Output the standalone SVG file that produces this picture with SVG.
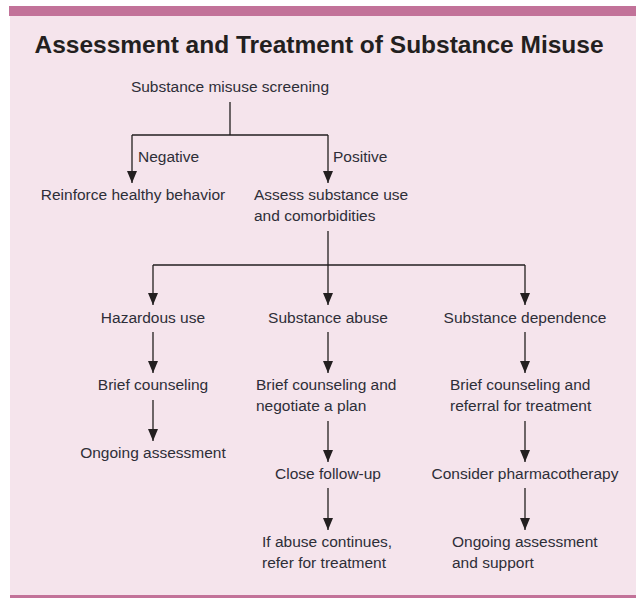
<svg xmlns="http://www.w3.org/2000/svg" width="636" height="598" viewBox="0 0 636 598">
<defs>
<marker id="ah" viewBox="0 0 12 10" refX="12" refY="5" markerWidth="12" markerHeight="10" markerUnits="userSpaceOnUse" orient="auto">
<path d="M0,0 L12,5 L0,10 Z" fill="#231f20"/>
</marker>
<style>
.t{font-family:"Liberation Sans",Arial,sans-serif;font-size:15.5px;fill:#2e2e38}
.m{text-anchor:middle}
.ln{fill:none;stroke:#231f20;stroke-width:1.3}
.ar{fill:none;stroke:#231f20;stroke-width:1.3}
</style>
</defs>
<rect x="0" y="0" width="636" height="598" fill="#ffffff"/>
<rect x="10" y="16" width="626" height="579" fill="#f5e4ec"/>
<rect x="9" y="6" width="627" height="10" fill="#c27299"/>
<rect x="10" y="595" width="626" height="3" fill="#c27299"/>
<text x="319" y="53" text-anchor="middle" style="font-family:'Liberation Sans',Arial,sans-serif;font-size:24.5px;font-weight:bold;fill:#231f20">Assessment and Treatment of Substance Misuse</text>
<g id="connectors">
<path class="ln" d="M230,102 V135 M132,135 H328"/>
<path class="ar" d="M132,135 V183" marker-end="url(#ah)"/>
<path class="ar" d="M328,135 V183" marker-end="url(#ah)"/>
<path class="ln" d="M328,231 V265 M153,265 H525"/>
<path class="ar" d="M153,265 V305" marker-end="url(#ah)"/>
<path class="ar" d="M328,265 V305" marker-end="url(#ah)"/>
<path class="ar" d="M525,265 V305" marker-end="url(#ah)"/>
<path class="ar" d="M153,332 V373" marker-end="url(#ah)"/>
<path class="ar" d="M328,332 V373" marker-end="url(#ah)"/>
<path class="ar" d="M525,332 V373" marker-end="url(#ah)"/>
<path class="ar" d="M153,400 V441" marker-end="url(#ah)"/>
<path class="ar" d="M328,421 V462" marker-end="url(#ah)"/>
<path class="ar" d="M525,421 V462" marker-end="url(#ah)"/>
<path class="ar" d="M328,488 V530" marker-end="url(#ah)"/>
<path class="ar" d="M525,488 V530" marker-end="url(#ah)"/>
<text class="t" x="138" y="162">Negative</text>
<text class="t" x="333" y="162">Positive</text>
</g>
<g id="screening"><text class="t m" x="230" y="92">Substance misuse screening</text></g>
<g id="reinforce"><text class="t m" x="133" y="200">Reinforce healthy behavior</text></g>
<g id="assess"><text class="t" x="254" y="200">Assess substance use</text><text class="t" x="254" y="221">and comorbidities</text></g>
<g id="hazardous"><text class="t m" x="153" y="323">Hazardous use</text></g>
<g id="abuse"><text class="t m" x="328" y="323">Substance abuse</text></g>
<g id="dependence"><text class="t m" x="525" y="323">Substance dependence</text></g>
<g id="brief1"><text class="t m" x="153" y="390">Brief counseling</text></g>
<g id="brief2"><text class="t" x="256" y="390">Brief counseling and</text><text class="t" x="256" y="411">negotiate a plan</text></g>
<g id="brief3"><text class="t" x="450" y="390">Brief counseling and</text><text class="t" x="450" y="411">referral for treatment</text></g>
<g id="ongoing1"><text class="t m" x="153" y="458">Ongoing assessment</text></g>
<g id="followup"><text class="t m" x="328" y="479">Close follow-up</text></g>
<g id="pharma"><text class="t m" x="525" y="479">Consider pharmacotherapy</text></g>
<g id="refer"><text class="t" x="262" y="547">If abuse continues,</text><text class="t" x="262" y="568">refer for treatment</text></g>
<g id="ongoing2"><text class="t" x="452" y="547">Ongoing assessment</text><text class="t" x="452" y="568">and support</text></g>
</svg>
